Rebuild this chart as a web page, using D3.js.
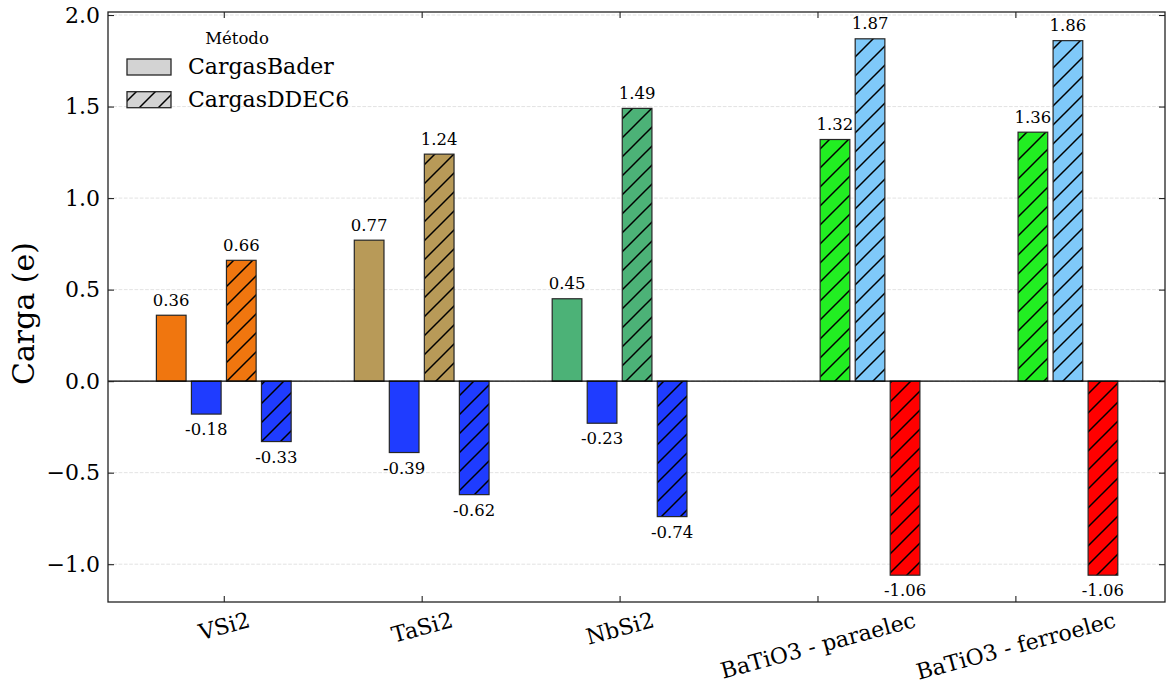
<!DOCTYPE html>
<html><head><meta charset="utf-8">
<script src="https://cdn.jsdelivr.net/npm/d3@7"></script>
<style>
body{margin:0;background:#fff}
svg{display:block}
text{font-family:"DejaVu Serif",serif;fill:#000}
</style>
</head><body>
<svg id="chart" width="1166" height="688"></svg>
<script>
// ---- data ----
const categories = ["VSi2", "TaSi2", "NbSi2", "BaTiO3 - paraelec", "BaTiO3 - ferroelec"];
const methods = ["CargasBader", "CargasDDEC6"];
const barCategory = [0,0,0,0, 1,1,1,1, 2,2,2,2, 3,3,3, 4,4,4];
const barSeries   = [0,1,2,3, 0,1,2,3, 0,1,2,3, 2,3,4, 2,3,4];
const barElement  = ["V","Si","V","Si", "Ta","Si","Ta","Si", "Nb","Si","Nb","Si", "Ti","Ba","O", "Ti","Ba","O"];
const barMethod   = ["CargasBader","CargasBader","CargasDDEC6","CargasDDEC6",
                     "CargasBader","CargasBader","CargasDDEC6","CargasDDEC6",
                     "CargasBader","CargasBader","CargasDDEC6","CargasDDEC6",
                     "CargasDDEC6","CargasDDEC6","CargasDDEC6",
                     "CargasDDEC6","CargasDDEC6","CargasDDEC6"];
const barValues   = [0.36,-0.18,0.66,-0.33, 0.77,-0.39,1.24,-0.62, 0.45,-0.23,1.49,-0.74, 1.32,1.87,-1.06, 1.36,1.86,-1.06];
const yTicks = [-1.0, -0.5, 0.0, 0.5, 1.0, 1.5, 2.0];

// ---- styles ----
const elementColor = {V:"#f0760f", Si:"#1f3cff", Ta:"#b89a58", Nb:"#4cb277", Ti:"#22ee22", Ba:"#7fc9f9", O:"#ff0000"};

(function(){
const W = 1166, H = 688;
const pL = 108, pR = 1165, pT = 12, pB = 602;
const svg = d3.select("#chart");
svg.append("rect").attr("width", W).attr("height", H).attr("fill", "#fff");

const x = d3.scaleLinear().domain([-0.585, 4.756]).range([pL, pR]);
const y = d3.scaleLinear().domain([-1.2065, 2.0165]).range([pB, pT]);
const slotStep = 0.177, barWidth = 0.15;

const defs = svg.append("defs");
const pat = defs.append("pattern").attr("id", "hatch").attr("patternUnits", "userSpaceOnUse")
  .attr("width", 19).attr("height", 19);
pat.append("path").attr("d", "M0,19 L19,0 M-4.75,4.75 L4.75,-4.75 M14.25,23.75 L23.75,14.25")
  .attr("stroke", "#000").attr("stroke-width", 1.5).attr("fill", "none");

// grid
svg.append("g").selectAll("line").data(yTicks).join("line")
  .attr("x1", pL).attr("x2", pR).attr("y1", d => y(d)).attr("y2", d => y(d))
  .attr("stroke", "#dcdcdc").attr("stroke-width", 0.8).attr("stroke-dasharray", "3.7,1.6");

// bars
const bars = barValues.map((v, i) => ({
  v, cat: barCategory[i], s: barSeries[i], el: barElement[i], m: barMethod[i]
}));
const bx = d => x(d.cat + (d.s - 1.5) * slotStep - barWidth / 2);
const bw = x(barWidth) - x(0);
const gb = svg.append("g");
gb.selectAll("rect.fill").data(bars).join("rect").attr("class", "fill")
  .attr("x", bx).attr("width", bw)
  .attr("y", d => y(Math.max(0, d.v))).attr("height", d => Math.abs(y(d.v) - y(0)))
  .attr("fill", d => elementColor[d.el]);
gb.selectAll("rect.hatch").data(bars.filter(d => d.m === "CargasDDEC6")).join("rect").attr("class", "hatch")
  .attr("x", bx).attr("width", bw)
  .attr("y", d => y(Math.max(0, d.v))).attr("height", d => Math.abs(y(d.v) - y(0)))
  .attr("fill", "url(#hatch)");
gb.selectAll("rect.edge").data(bars).join("rect").attr("class", "edge")
  .attr("x", bx).attr("width", bw)
  .attr("y", d => y(Math.max(0, d.v))).attr("height", d => Math.abs(y(d.v) - y(0)))
  .attr("fill", "none").attr("stroke", "#262626").attr("stroke-width", 1.2);

// value labels
svg.append("g").selectAll("text").data(bars).join("text")
  .attr("x", d => bx(d) + bw / 2)
  .attr("y", d => d.v >= 0 ? y(d.v) - 9.5 : y(d.v) + 21)
  .attr("text-anchor", "middle").attr("font-size", 16.5)
  .text(d => d.v.toFixed(2));

// zero line
svg.append("line").attr("x1", pL).attr("x2", pR).attr("y1", y(0)).attr("y2", y(0))
  .attr("stroke", "#000").attr("stroke-width", 1.2);

// axes
const axL = svg.append("g").attr("transform", `translate(${pL},0)`)
  .call(d3.axisLeft(y).tickValues(yTicks).tickSize(-6).tickSizeOuter(0).tickPadding(8).tickFormat(d3.format(".1f")));
const axR = svg.append("g").attr("transform", `translate(${pR},0)`)
  .call(d3.axisRight(y).tickValues(yTicks).tickSize(-6).tickSizeOuter(0).tickFormat(""));
const axT = svg.append("g").attr("transform", `translate(0,${pT})`)
  .call(d3.axisTop(x).tickValues(d3.range(categories.length)).tickSize(-6).tickSizeOuter(0).tickFormat(""));
const axB = svg.append("g").attr("transform", `translate(0,${pB})`)
  .call(d3.axisBottom(x).tickValues(d3.range(categories.length)).tickSize(-6).tickSizeOuter(0).tickFormat(i => categories[i]));
[axL, axR, axT, axB].forEach(a => {
  a.select(".domain").remove();
  a.selectAll(".tick line").attr("stroke", "#222").attr("stroke-width", 1.1);
  a.selectAll("text").attr("font-family", "DejaVu Serif").attr("font-size", 22).attr("fill", "#000");
});
const ang = 15 * Math.PI / 180;
axB.selectAll(".tick text").each(function() {
  const t = d3.select(this);
  const w = this.getComputedTextLength();
  const hh = w * Math.sin(ang) + 25.6 * Math.cos(ang);
  const cy = 5 + hh / 2;
  t.attr("x", 0).attr("y", cy).attr("dy", "0.346em").attr("text-anchor", "middle")
   .attr("transform", `rotate(-15,0,${cy})`);
});

// frame
svg.append("rect").attr("x", pL).attr("y", pT).attr("width", pR - pL).attr("height", pB - pT)
  .attr("fill", "none").attr("stroke", "#222").attr("stroke-width", 1.3);

// y label
svg.append("text").attr("transform", "translate(33.5,313.5) rotate(-90)")
  .attr("text-anchor", "middle").attr("font-size", 30).text("Carga (e)");

// legend
const lg = svg.append("g");
lg.append("text").attr("x", 237).attr("y", 44).attr("text-anchor", "middle").attr("font-size", 16.5).text("Método");
methods.forEach((m, i) => {
  const yy = 59 + i * 32.7;
  lg.append("rect").attr("x", 127).attr("y", yy).attr("width", 44).attr("height", 16)
    .attr("fill", "#d3d3d3");
  if (m === "CargasDDEC6") {
    lg.append("rect").attr("x", 127).attr("y", yy).attr("width", 44).attr("height", 16).attr("fill", "url(#hatch)");
  }
  lg.append("rect").attr("x", 127).attr("y", yy).attr("width", 44).attr("height", 16)
    .attr("fill", "none").attr("stroke", "#262626").attr("stroke-width", 1.3);
  lg.append("text").attr("x", 188).attr("y", yy + 15).attr("font-size", 22).text(m);
});
})();
</script>
</body></html>
